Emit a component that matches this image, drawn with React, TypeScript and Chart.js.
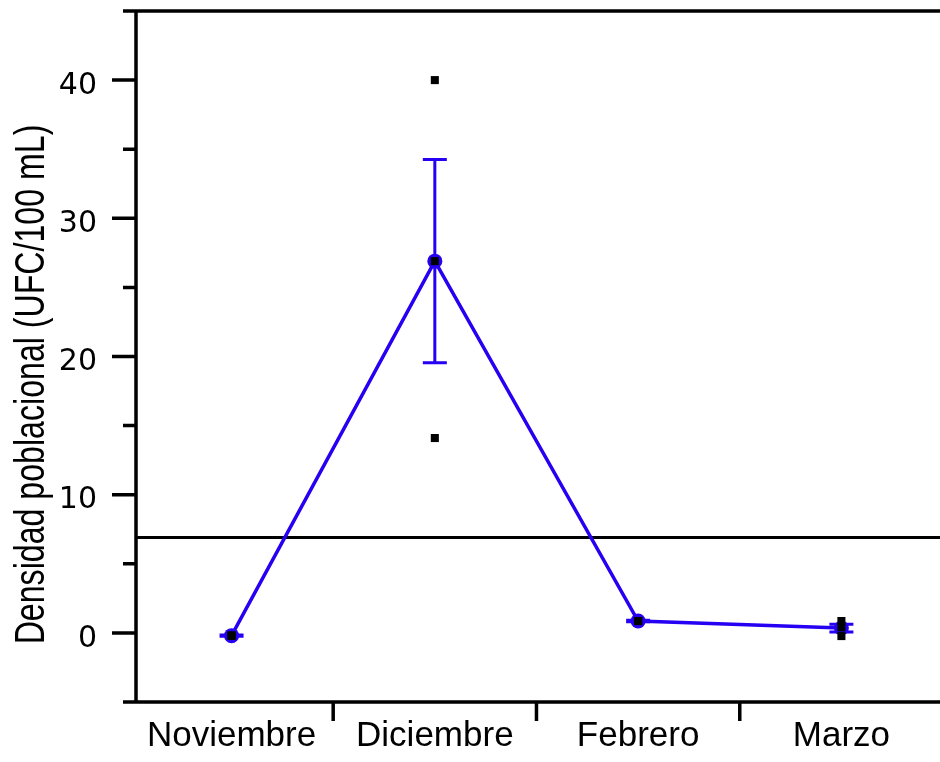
import React, { useEffect, useRef } from 'react';
import { Chart, registerables } from 'chart.js';

Chart.register(...registerables);

const categories = ['Noviembre', 'Diciembre', 'Febrero', 'Marzo'];
const means = [-0.2, 26.9, 0.86, 0.35];
const standardErrors = [0.05, 7.35, 0.05, 0.28];
const rawNoviembre = [-0.2, -0.2, -0.2];
const rawDiciembre = [40.0, 26.9, 14.1];
const rawFebrero = [0.86, 0.86, 0.86];
const rawMarzo = [0.86, 0.4, -0.23];
const referenceValue = 6.9;
const yMajorTicks = [0, 10, 20, 30, 40];
const yMinorTicks = [-5, 5, 15, 25, 35, 45];
const xBoundaryTicks = [0.5, 1.5, 2.5];
const yTitle = 'Densidad poblacional (UFC/100 mL)';

const BLUE = '#2600f2';
const rawGroups = [rawNoviembre, rawDiciembre, rawFebrero, rawMarzo];

const customPlugin = {
  id: 'customAxesAndErrors',
  beforeDatasetsDraw(chart: any) {
    const { ctx, chartArea, scales } = chart;
    const x = scales.x;
    const y = scales.y;
    ctx.save();
    // reference line
    ctx.strokeStyle = '#000';
    ctx.lineWidth = 3;
    const ry = y.getPixelForValue(referenceValue);
    ctx.beginPath();
    ctx.moveTo(chartArea.left, ry);
    ctx.lineTo(chartArea.right, ry);
    ctx.stroke();
    // error bars
    ctx.strokeStyle = BLUE;
    ctx.lineWidth = 3;
    means.forEach((m, i) => {
      const px = x.getPixelForValue(i);
      const top = y.getPixelForValue(m + standardErrors[i]);
      const bot = y.getPixelForValue(m - standardErrors[i]);
      ctx.beginPath();
      ctx.moveTo(px, top);
      ctx.lineTo(px, bot);
      ctx.moveTo(px - 12, top);
      ctx.lineTo(px + 12, top);
      ctx.moveTo(px - 12, bot);
      ctx.lineTo(px + 12, bot);
      ctx.stroke();
    });
    ctx.restore();
  },
  afterDraw(chart: any) {
    const { ctx, chartArea, scales } = chart;
    const x = scales.x;
    const y = scales.y;
    const L = chartArea.left;
    ctx.save();
    ctx.strokeStyle = '#000';
    ctx.lineWidth = 3.5;
    ctx.lineCap = 'butt';
    ctx.beginPath();
    // left axis
    ctx.moveTo(L, y.getPixelForValue(45) - 1.75);
    ctx.lineTo(L, y.getPixelForValue(-5) + 1.75);
    // top and bottom lines (extend left as minor ticks)
    for (const v of [45, -5]) {
      const py = y.getPixelForValue(v);
      ctx.moveTo(L - 13, py);
      ctx.lineTo(chartArea.right, py);
    }
    for (const v of yMajorTicks) {
      const py = y.getPixelForValue(v);
      ctx.moveTo(L - 24, py);
      ctx.lineTo(L, py);
    }
    for (const v of yMinorTicks) {
      const py = y.getPixelForValue(v);
      ctx.moveTo(L - 13, py);
      ctx.lineTo(L, py);
    }
    const by = y.getPixelForValue(-5);
    for (const v of xBoundaryTicks) {
      const px = x.getPixelForValue(v);
      ctx.moveTo(px, by);
      ctx.lineTo(px, by + 19);
    }
    ctx.stroke();

    // y title
    const cy = (y.getPixelForValue(45) + y.getPixelForValue(-5)) / 2 + 28;
    ctx.translate(44, cy);
    ctx.rotate(-Math.PI / 2);
    ctx.scale(0.765, 1);
    ctx.fillStyle = '#000';
    ctx.font = "42px 'Liberation Sans', Arial, sans-serif";
    ctx.textAlign = 'center';
    ctx.textBaseline = 'alphabetic';
    ctx.fillText(yTitle, 0, 0);
    ctx.restore();
  },
};

export default function App() {
  const canvasRef = useRef<HTMLCanvasElement | null>(null);

  useEffect(() => {
    const canvas = canvasRef.current;
    if (!canvas) return;
    const rawPoints: { x: number; y: number }[] = [];
    rawGroups.forEach((g, i) => g.forEach((v) => rawPoints.push({ x: i, y: v })));
    const meanPoints = means.map((m, i) => ({ x: i, y: m }));

    const chart = new Chart(canvas, {
      type: 'line',
      data: {
        datasets: [
          {
            type: 'scatter',
            data: rawPoints,
            pointStyle: 'rect',
            pointRadius: 5.7,
            pointBackgroundColor: '#000',
            pointBorderWidth: 0,
            showLine: false,
            order: 0,
          } as any,
          {
            type: 'line',
            data: meanPoints,
            borderColor: BLUE,
            borderWidth: 3.5,
            pointRadius: 7.5,
            pointBackgroundColor: BLUE,
            pointBorderWidth: 0,
            tension: 0,
            order: 1,
          },
        ],
      },
      options: {
        animation: false,
        responsive: false,
        devicePixelRatio: 1,
        layout: { autoPadding: false, padding: { top: 11, left: 0, right: 0, bottom: 0 } },
        plugins: { legend: { display: false }, tooltip: { enabled: false } },
        scales: {
          x: {
            type: 'linear',
            min: -0.47,
            max: 3.485,
            grid: { display: false, drawTicks: false },
            border: { display: false },
            afterBuildTicks: (s: any) => {
              s.ticks = categories.map((_, i) => ({ value: i }));
            },
            afterFit: (s: any) => {
              s.height = 60;
              s.paddingLeft = 0;
              s.paddingRight = 0;
            },
            ticks: {
              callback: (v: any) => categories[v] ?? '',
              font: { family: "'Liberation Sans', Arial, sans-serif", size: 35 },
              color: '#000',
              padding: 13,
              autoSkip: false,
              maxRotation: 0,
            },
          },
          y: {
            type: 'linear',
            min: -5,
            max: 45,
            grid: { display: false, drawTicks: false },
            border: { display: false },
            afterBuildTicks: (s: any) => {
              s.ticks = yMajorTicks.map((v) => ({ value: v }));
            },
            afterFit: (s: any) => {
              s.width = 136;
              s.paddingTop = 0;
              s.paddingBottom = 0;
            },
            ticks: {
              font: { family: "'DejaVu Sans', sans-serif", size: 30 },
              color: '#000',
              padding: 39,
              labelOffset: 6,
            },
          },
        },
      },
      plugins: [customPlugin],
    });
    return () => chart.destroy();
  }, []);

  return (
    <canvas
      ref={canvasRef}
      width={940}
      height={762}
      style={{ position: 'fixed', left: 0, top: 0, width: 940, height: 762, display: 'block' }}
    />
  );
}
